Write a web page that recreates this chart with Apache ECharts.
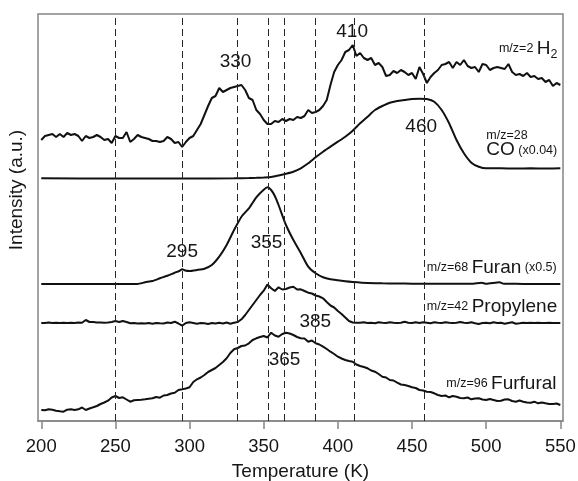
<!DOCTYPE html>
<html><head><meta charset="utf-8">
<script src="https://cdn.jsdelivr.net/npm/echarts@6/dist/echarts.min.js"></script>
<style>html,body{margin:0;padding:0;background:#fff}#c{width:578px;height:481px}</style>
</head><body><div id="c"></div>
<script>
// ---------- data ----------
const xTicks = [200, 250, 300, 350, 400, 450, 500, 550];
const fineStart = 200, fineStep = 2.5; // sampling grid of the noisy traces (K)

// m/z=2 H2
const h2 = [
 281,285,286,287,284,287,284,288,286,287,
 285,280,285,283,284,286,284,281,282,278,
 285,283,283,289,279,282,286,284,283,282,
 280,280,279,280,284,282,278,279,274,279,
 283,285,291,297,306,315,323,325,333,329,
 331,333,334,335,336,331,323,321,311,307,
 301,297,297,300,299,302,300,302,301,304,
 303,305,311,308,309,311,315,321,336,349,
 356,361,369,371,376,365,368,363,361,363,
 356,358,354,345,346,350,348,351,349,346,
 348,342,354,347,338,344,348,351,356,357,
 359,353,359,356,361,355,353,354,349,357,
 356,351,353,354,353,352,357,349,346,347,
 345,348,344,345,342,343,339,341,335,338,
 336];
// m/z=42 Propylene
const propylene = [
 98,98,98.5,98,98.3,98,98.3,98,98.3,98,
 98.5,98.3,101,99,99,98.5,98.5,98.3,98.5,99,
 100,99,100,99,97.7,98,97.5,97.7,97.5,98,
 97.3,98,97.7,97.5,98.5,98,99.3,97.5,95.3,98,
 98.7,98,97.3,98,97.7,97,98,97.5,98.3,97.5,
 98.5,97.3,98.3,99,101.7,106,111,116,121,126,
 130.3,136.5,132.7,130,133.7,131.5,132,133.5,134.3,131.5,
 131.7,130,128.3,127.5,125.5,124.5,122.7,119,115.5,113.5,
 110,107,103.5,100,98.5,98.3,98.3,98.7,98,98.3,
 97.7,98.7,98.3,98,98.7,98.3,98,98.3,99.3,98.3,
 98,98.7,98,98.7,98.3,97.7,98.7,98.3,98,98.7,
 98.3,98,98.3,99,98.3,98,98.7,97.7,97,98,
 98.3,97.7,98.7,98,98.3,97.3,98,98.7,97.3,97.7,
 98.3,98,98.3,98,98.3,98,98,98.3,98,98,
 98];
// m/z=96 Furfural
const furfural = [
 11,10.7,11.7,11.3,10.3,9.7,9.3,11.3,11.7,11,
 11.7,13.5,11,12.5,13.7,15,17,18.5,20.3,23.5,
 25,23,23.7,21.5,19.3,20.7,21,21.3,21.7,22.3,
 22.7,24,23.3,25.5,26,27.5,28.3,31,31.7,32.5,
 33.7,39,41.7,43.5,46,49,51,53,56,59,
 62.7,68,71.7,73,75,75.5,77.7,81,82.7,84,
 85,83.5,88.3,85.5,84.3,87,88.3,87.5,86,84,
 82.7,82.5,79.3,80.5,77.7,76.5,74.3,72,69.3,67,
 64.3,62.5,61,60,59.3,56.5,55,54,52.7,50.5,
 49.3,47,44.3,43.5,41,40.5,38.3,36.5,36,35,
 33.7,33,31,30.5,29.3,29,27.7,26,25,25.5,
 23.7,25,24.3,23,22.7,23.5,21.7,22.5,22.7,21.5,
 21,22,21,20,20.3,21.5,21.7,20,19.3,20.5,
 19.3,18.5,18.3,19.3,17.7,18.5,17.7,17,17,17.5,
 16];
// m/z=28 CO (x0.04)
const coT = [200,250,300,330,340,345,350,355,360,365,370,375,380,385,390,395,400,405,410,415,
             420,425,430,435,440,445,450,455,460,465,470,475,480,485,490,495,500,510,520,530,540,550];
const coI = [242.7,242.5,242.5,242.7,243,243.2,243.5,244,245.5,247.3,249.3,252.7,257.7,263.7,269.3,274.3,279.3,284.3,290.3,297.7,
             304.3,311,315,318.3,320,321,322,322.3,322,319.3,311,297.7,281,267.7,258.3,254.3,252.7,252.7,252.5,252.7,252.5,252.7];
// m/z=68 Furan (x0.5)
const furanT = [200,260,265,270,275,280,285,290,293,295,297,300,305,310,315,320,325,330,335,340,
                345,350,352.5,355,357.5,360,365,370,375,380,385,390,395,400,405,410,420,430,440,450,
                460,470,480,490,497,500,509,512,520,530,540,550];
const furanI = [137,137,137,138.7,140,142.7,145.3,148.3,150,151.7,150.5,150,151,152.3,156,164.3,176,191,204.3,212.7,
                223.7,231.3,233.7,231,225,216,196,181,168,154.3,147.7,143.7,141.7,140.7,139.7,139,138,137.7,137.5,137.3,
                137.3,137.3,137.2,137.2,138.3,137.2,138.7,137.2,137.2,137,137,137];

// reference temperatures (dashed lines)
const dashedT = [250, 295, 332, 353, 364, 385, 411, 458];

// peak annotations
const peakText = ['330', '410', '460', '295', '355', '385', '365'];
const peakT = [331, 409.6, 456.2, 295, 351.9, 384.8, 364];
const peakI = [359, 389.5, 294.5, 169.5, 178.5, 99.5, 61.7];

// trace names
const nameText = ['{sm|m/z=2 }{big|H}', '{sub|2}', '{sm|m/z=28}', '{big|CO} {par|(x0.04)}',
                  '{sm|m/z=68 }{big|Furan} {par|(x0.5)}', '{sm|m/z=42 }{big|Propylene}', '{sm|m/z=96 }{big|Furfural}'];
const nameT = [543.4, 543.4, 500.1, 500.1, 460.0, 460.0, 473.1];
const nameI = [372.5, 366.9, 285.4, 270.8, 153.2, 114.2, 37.5];
const nameSide = ['left', 'right', 'right', 'right', 'right', 'right', 'right'];

// ---------- build ----------
const FONT = '"Liberation Sans", Arial, Helvetica, sans-serif';
const TXT = '#161616';
const LINE = '#111111';
const AX = '#858585';

const fine = arr => arr.map((v, i) => [fineStart + i * fineStep, v]);
const pairs = (t, v) => t.map((x, i) => [x, v[i]]);

const lineSeries = (name, data, extra) => Object.assign({
  name, type: 'line', data, showSymbol: false, symbol: 'none', silent: true,
  lineStyle: { color: LINE, width: 2 }, z: 3, animation: false
}, extra || {});

const rich = {
  sm: { fontSize: 12.5, lineHeight: 12.5, fontFamily: FONT, color: TXT },
  big: { fontSize: 19, lineHeight: 19, fontFamily: FONT, color: TXT },
  par: { fontSize: 12.5, lineHeight: 12.5, fontFamily: FONT, color: TXT },
  sub: { fontSize: 12.5, lineHeight: 12.5, fontFamily: FONT, color: TXT }
};

const chart = echarts.init(document.getElementById('c'), null, { renderer: 'canvas' });
chart.setOption({
  animation: false,
  backgroundColor: '#ffffff',
  grid: { left: 38, right: 15, top: 14, bottom: 60, show: true, borderColor: AX, borderWidth: 1.5,
          containLabel: false, outerBoundsMode: 'none' },
  xAxis: {
    type: 'value', min: 197.8, max: 551.8,
    axisLine: { show: true, lineStyle: { color: AX, width: 1.5 } },
    axisTick: { show: true, inside: false, length: 8, customValues: xTicks, lineStyle: { color: AX, width: 1.5 } },
    axisLabel: { customValues: xTicks, fontSize: 18.5, color: TXT, margin: 16, fontFamily: FONT },
    splitLine: { show: false },
    name: 'Temperature (K)', nameLocation: 'middle', nameGap: 41,
    nameTextStyle: { fontSize: 19, color: TXT, fontFamily: FONT }
  },
  yAxis: {
    type: 'value', min: 0, max: 407,
    axisLine: { show: false }, axisTick: { show: false }, axisLabel: { show: false }, splitLine: { show: false }
  },
  graphic: [{
    type: 'text', x: 17, y: 190, rotation: Math.PI / 2,
    style: { text: 'Intensity (a.u.)', fontSize: 19, fontFamily: FONT, fill: TXT, align: 'center', verticalAlign: 'middle' }
  }],
  series: [
    lineSeries('H2', fine(h2), {
      markLine: {
        silent: true, symbol: ['none', 'none'], label: { show: false }, animation: false,
        lineStyle: { color: '#262626', width: 1, type: [7, 4] },
        data: dashedT.map(t => ({ xAxis: t }))
      }
    }),
    lineSeries('CO', pairs(coT, coI), { smooth: 0.2 }),
    lineSeries('Furan', pairs(furanT, furanI), { smooth: 0.2 }),
    lineSeries('Propylene', fine(propylene)),
    lineSeries('Furfural', fine(furfural)),
    {
      type: 'scatter', silent: true, symbolSize: 0, z: 5, animation: false,
      itemStyle: { opacity: 1 },
      data: peakText.map((t, i) => ({
        value: [peakT[i], peakI[i]],
        label: { show: true, position: 'inside', formatter: t, fontSize: 19, color: TXT, opacity: 1, fontFamily: FONT }
      }))
    },
    {
      type: 'scatter', silent: true, symbolSize: 0, z: 5, animation: false,
      itemStyle: { opacity: 1 },
      data: nameText.map((t, i) => ({
        value: [nameT[i], nameI[i]],
        label: { show: true, position: nameSide[i], distance: 0, formatter: t, rich, opacity: 1,
                 fontSize: 12.5, color: TXT, fontFamily: FONT }
      }))
    }
  ]
});
</script>
</body></html>
